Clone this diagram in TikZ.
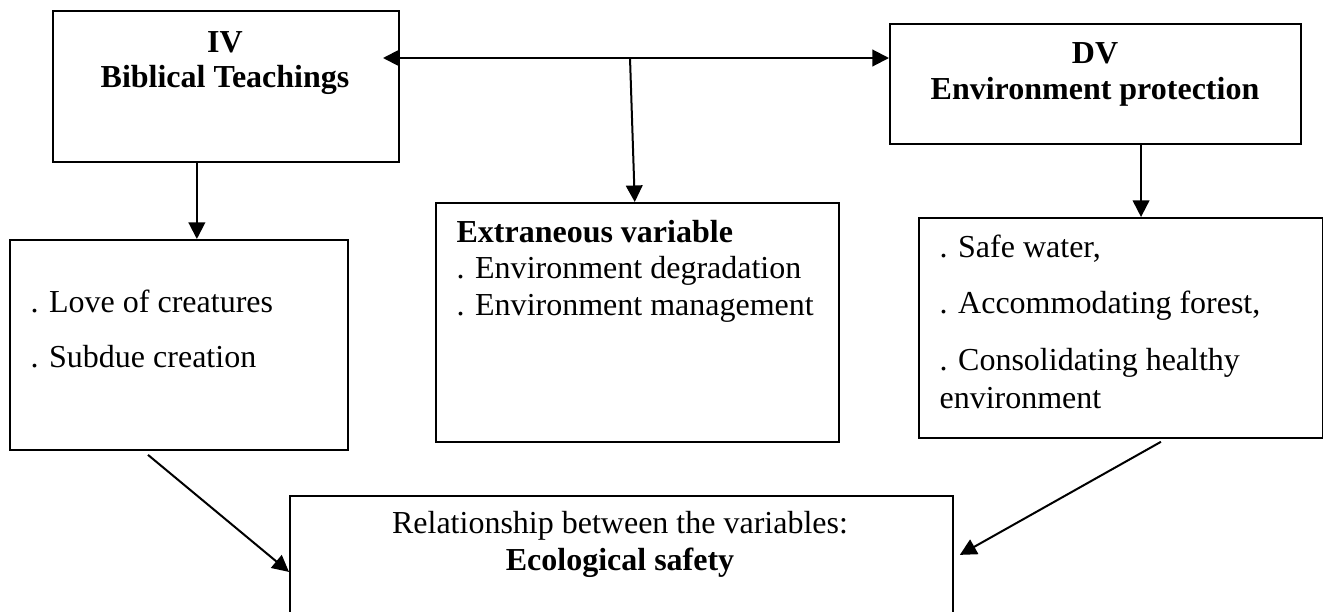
\documentclass[tikz,border=0pt]{standalone}
\usepackage{fontspec}
\setmainfont{Liberation Serif}
\usetikzlibrary{arrows.meta}
\begin{document}
\begin{tikzpicture}[x=0.375pt,y=-0.375pt,
  every node/.style={font=\fontsize{12}{14}\selectfont},
  box/.style={draw, line width=0.7pt, inner sep=0pt, anchor=north west},
  txt/.style={inner sep=0pt, anchor=base west},
  ctr/.style={inner sep=0pt, anchor=base},
  conn/.style={line width=0.75pt, -{Triangle[length=6.2pt,width=6.2pt]}},
  dconn/.style={line width=0.75pt, {Triangle[length=6.2pt,width=6.2pt]}-{Triangle[length=6.2pt,width=6.2pt]}}
]
\useasboundingbox (0,0) rectangle (1323,611);
\clip (0,0) rectangle (1323,611);

% boxes
\node[box, minimum width=346*0.375pt, minimum height=151*0.375pt] (IV) at (52,10) {};
\node[box, minimum width=411*0.375pt, minimum height=120*0.375pt] (DV) at (889,23) {};
\node[box, minimum width=338*0.375pt, minimum height=210*0.375pt] (lb) at (9,239) {};
\node[box, minimum width=403*0.375pt, minimum height=239*0.375pt] (mid) at (435,202) {};
\node[box, minimum width=404*0.375pt, minimum height=220*0.375pt] (rb) at (918,217) {};
\node[box, minimum width=663*0.375pt, minimum height=152*0.375pt] (bot) at (289,495) {};

% texts
\node[ctr] (ivt1) at (225,52) {\textbf{IV}};
\node[ctr] (ivt2) at (225,87) {\textbf{Biblical Teachings}};
\node[ctr] (dvt1) at (1095,63) {\textbf{DV}};
\node[ctr] (dvt2) at (1095,99) {\textbf{Environment protection}};
\node[txt] (m1) at (456,242) {\textbf{Extraneous variable}};
\node[txt] (m2) at (456,278) {. Environment degradation};
\node[txt] (m3) at (456,315) {. Environment management};
\node[txt] (l1) at (30,312) {. Love of creatures};
\node[txt] (l2) at (30,367) {. Subdue creation};
\node[txt] (r1) at (939,257) {. Safe water,};
\node[txt] (r2) at (939,313) {. Accommodating forest,};
\node[txt] (r3) at (939,370) {. Consolidating healthy};
\node[txt] (r4) at (939,408) {environment};
\node[ctr] (b1) at (620,533) {Relationship between the variables:};
\node[ctr] (b2) at (620,570) {\textbf{Ecological safety}};

% connectors
\coordinate (j) at (630,58);
\coordinate (ivin) at (383,58);
\draw[dconn] (ivin) -- (DV.west |- j);
\draw[conn] (j) -- ([xshift=-1pt]mid.north);
\draw[conn] ([xshift=-10.9pt]IV.south) -- ([xshift=-10.9pt]IV.south |- lb.north);
\draw[conn] ([xshift=17.1pt]DV.south) -- ([xshift=17.1pt]DV.south |- rb.north);
\draw[conn] ([xshift=-11.6pt,yshift=-1.5pt]lb.south) -- (bot.west);
\draw[conn] ([xshift=15pt,yshift=-1.1pt]rb.south) -- ([xshift=2.25pt,yshift=6.4pt]bot.east);
\end{tikzpicture}
\end{document}
